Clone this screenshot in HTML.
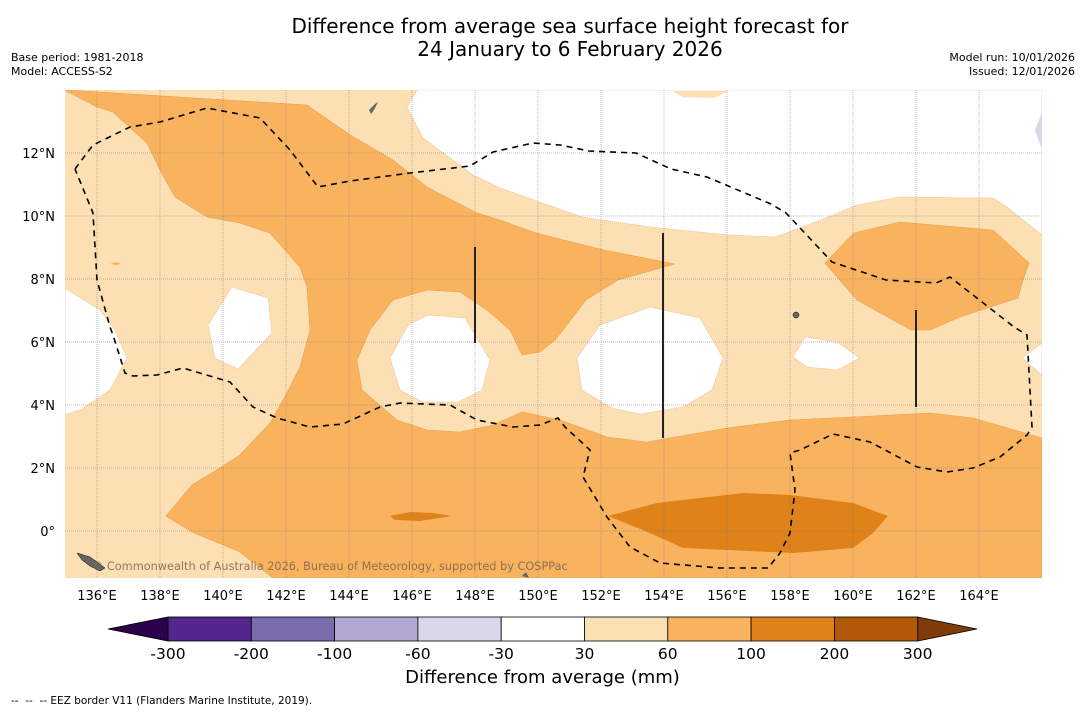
<!DOCTYPE html>
<html><head><meta charset="utf-8">
<style>
body{margin:0;background:#fff;font-family:"DejaVu Sans","Liberation Sans",sans-serif;}
#wrap{position:relative;width:1085px;height:713px;overflow:hidden;background:#fff;}
.t{position:absolute;white-space:nowrap;color:#000;}
</style></head>
<body>
<div id="wrap">
<div class="t" style="left:0;width:1140px;top:15px;text-align:center;font-size:20px;line-height:23px;">Difference from average sea surface height forecast for<br>24 January to 6 February 2026</div>
<div class="t" style="left:11px;top:51px;font-size:11px;line-height:14px;">Base period: 1981-2018<br>Model: ACCESS-S2</div>
<div class="t" style="right:10px;top:51px;font-size:11px;line-height:14px;text-align:right;">Model run: 10/01/2026<br>Issued: 12/01/2026</div>

<svg id="map" width="1085" height="713" style="position:absolute;left:0;top:0">
<defs><clipPath id="mc"><rect x="65" y="90" width="977" height="488"/></clipPath></defs>
<g clip-path="url(#mc)">
<rect x="65" y="90" width="977" height="488" fill="#fddfb4"/>
<polygon fill="#fff" stroke="#f0c89a" stroke-width="0.6" points="417,90 407,107 423,138 473,175 500,188 582,217 650,227 729,235 775,237 821,220 857,205 900,197 993,198 1007,207 1042,235 1042,90"/>
<polygon fill="#fddfb4" points="673,91 682,97 714,98 729,91"/>
<polygon fill="#d8d8ea" points="1035,130 1042,112 1042,150"/>
<polygon fill="#f9b35e" stroke="#e9a050" stroke-width="0.6" points="66,90 307,105 350,135 393,160 427,187 477,213 500,220 536,233 604,250 675,264 618,280 586,300 563,330 555,340 540,352 522,355 510,330 487,310 460,292 427,290 393,300 370,330 357,360 362,390 397,420 427,430 460,432 493,425 522,412 560,420 607,437 647,442 727,428 790,420 873,416 930,413 973,418 1042,438 1042,578 273,578 240,552 192,532 166,516 192,485 220,468 240,455 270,423 287,393 300,367 310,330 307,287 300,267 270,233 240,223 207,217 175,197 160,170 147,143 113,112 97,107 66,91"/>
<polygon fill="#f9b35e" stroke="#e9a050" stroke-width="0.6" points="825,263 854,233 900,222 993,230 1029,263 1023,280 1018,298 960,317 930,330 911,330 857,300"/>
<polygon fill="#f9b35e" points="110,264 116,262 121,264 116,265"/>
<polygon fill="#e0821a" points="608,516 657,503 743,493 790,495 853,503 888,516 873,533 853,548 793,553 683,548 650,533"/>
<polygon fill="#e0821a" points="390,516 410,512 433,513 452,516 420,521 395,520"/>
<polygon fill="#fff" stroke="#f0c89a" stroke-width="0.6" points="65,288 100,310 115,330 127,358 110,390 82,409 65,415"/>
<polygon fill="#fff" stroke="#f0c89a" stroke-width="0.6" points="208,325 232,287 268,298 272,333 238,369 215,358"/>
<polygon fill="#fff" stroke="#f0c89a" stroke-width="0.6" points="390,358 408,325 428,315 465,318 490,360 482,390 458,402 423,402 400,390"/>
<polygon fill="#fff" stroke="#f0c89a" stroke-width="0.6" points="577,358 600,325 650,307 700,318 723,358 712,390 683,407 640,414 612,408 582,390"/>
<polygon fill="#fff" stroke="#f0c89a" stroke-width="0.6" points="793,357 805,337 837,342 860,358 837,370 807,367"/>
<polygon fill="#fff" stroke="#f0c89a" stroke-width="0.6" points="1042,343 1022,358 1042,375"/>
<g id="grid"></g>
<polyline fill="none" stroke="#000" stroke-width="1.6" stroke-dasharray="6,5" points="75,169 93,145 130,127 160,122 207,108 260,118 290,150 318,187 350,181 410,173 470,166 493,152 533,143 560,145 589,151 636,153 671,169 707,177 771,204 786,213 832,262 886,280 936,283 950,277 1014,327 1027,335 1032,427 1027,435 1000,457 973,468 947,472 917,467 887,451 870,442 833,434 800,450 790,453 795,490 790,533 780,553 768,568 720,568 660,563 630,547 607,517 583,477 590,450 565,427 558,418 540,425 513,427 477,420 450,405 400,403 380,407 343,424 310,427 277,418 253,407 230,382 183,368 157,375 133,376 125,373 113,335 110,327 97,280 93,213 75,169"/>
<line x1="475" y1="247" x2="475" y2="343" stroke="#222" stroke-width="2"/>
<line x1="663" y1="233" x2="663" y2="438" stroke="#222" stroke-width="2"/>
<line x1="916" y1="310" x2="916" y2="407" stroke="#222" stroke-width="2"/>
<path fill="#666" stroke="#000" stroke-width="0.5" d="M77,553 L90,557 L97,562 L105,568 L100,571 L90,566 L82,560Z"/>
<circle cx="796" cy="315" r="3" fill="#666" stroke="#000" stroke-width="0.5"/>
<path fill="#666" d="M369,110 L375,104 L378,102 L374,110 L371,114Z"/>
<path fill="#666" d="M522,576 L526,572 L529,578Z"/>
<text x="92" y="570" font-size="11.3" fill="#7a6650" opacity="0.85" font-family="DejaVu Sans, sans-serif">© Commonwealth of Australia 2026, Bureau of Meteorology, supported by COSPPac</text>
</g>
<g id="axes"></g>
<g id="cbar"></g>
</svg>
<div class="t" style="left:0;width:1085px;top:667px;text-align:center;font-size:18px;">Difference from average (mm)</div>
<div class="t" style="left:11px;top:695px;font-size:10.5px;">--&nbsp; --&nbsp; -- EEZ border V11 (Flanders Marine Institute, 2019).</div>
</div>
<script>
const lonTicks = [136,138,140,142,144,146,148,150,152,154,156,158,160,162,164];
const latTicks = [0,2,4,6,8,10,12];
const cbLevels = [-300,-200,-100,-60,-30,30,60,100,200,300];
const cbColors = ["#54278f","#7b6cac","#b0a8d2","#d8d8ea","#ffffff","#fddfb4","#f9b35e","#e0821a","#b35806"];
const cbExtend = ["#2d004b","#7f3b08"];
const NS="http://www.w3.org/2000/svg";
const x = lon => 65.5 + (lon-135)*31.5;
const y = lat => 531 - lat*31.5;
function mk(tag, attrs, parent){const e=document.createElementNS(NS,tag);for(const k in attrs)e.setAttribute(k,attrs[k]);parent.appendChild(e);return e;}
const grid=document.getElementById('grid'), axes=document.getElementById('axes');
lonTicks.forEach(l=>{
  const g=mk('line',{x1:x(l),x2:x(l),y1:90,y2:578,stroke:'#777','stroke-width':0.8,'stroke-dasharray':'1,1',opacity:0.6},grid);
  
  
  const t=mk('text',{x:x(l),y:600,'font-size':13,'text-anchor':'middle','font-family':'DejaVu Sans, sans-serif'},axes);
  t.textContent=l+'°E';
  
  
});
latTicks.forEach(l=>{
  const g=mk('line',{x1:65,x2:1042,y1:y(l),y2:y(l),stroke:'#777','stroke-width':0.8,'stroke-dasharray':'1,1',opacity:0.6},grid);
  
  
  const t=mk('text',{x:55,y:y(l)+5,'font-size':13,'text-anchor':'end','font-family':'DejaVu Sans, sans-serif'},axes);
  t.textContent=l===0?'0°':l+'°N';
  
  
});
const cb=document.getElementById('cbar');
const cx0=168, cw=83.3, cy0=617, ch=24;
const cx=i=>cx0+i*cw;
const lt=mk('polygon',{points:`${cx(0)},${cy0} ${108},${cy0+ch/2} ${cx(0)},${cy0+ch}`,fill:cbExtend[0],stroke:'#000','stroke-width':0.8},cb);


const n=cbColors.length;
const rt=mk('polygon',{points:`${cx(n)},${cy0} ${977},${cy0+ch/2} ${cx(n)},${cy0+ch}`,fill:cbExtend[1],stroke:'#000','stroke-width':0.8},cb);


cbColors.forEach((c,i)=>{
  const r=mk('rect',{x:cx(i),y:cy0,width:cw,height:ch,fill:c,stroke:'#000','stroke-width':0.8},cb);
  
  
});
cbLevels.forEach((v,i)=>{
  const t=mk('text',{x:cx(i),y:659,'font-size':15.5,'text-anchor':'middle','font-family':'DejaVu Sans, sans-serif'},cb);
  t.textContent=v;
  
  
});
</script>
</body></html>
